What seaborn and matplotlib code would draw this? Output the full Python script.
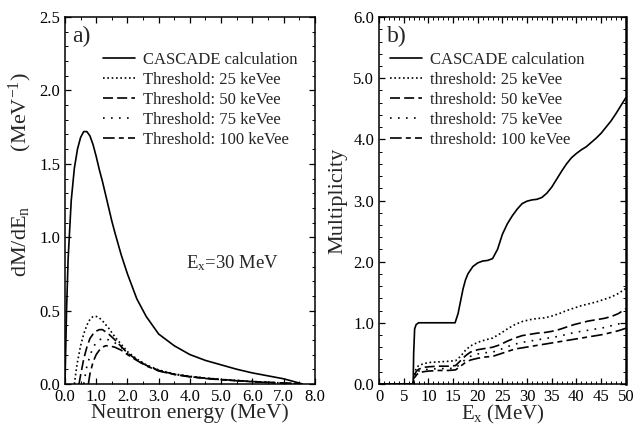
import numpy as np
import pandas as pd
import matplotlib
matplotlib.use("Agg")
import matplotlib.pyplot as plt
from matplotlib.ticker import MultipleLocator
import seaborn as sns

# ---- (a) neutron energy spectra at Ex = 30 MeV ----
e_cascade = [0.0, 0.05, 0.1, 0.2, 0.3, 0.4, 0.5, 0.6, 0.7, 0.8, 0.9, 1.0, 1.1, 1.2, 1.3,
             1.4, 1.5, 1.6, 1.8, 2.0, 2.3, 2.6, 3.0, 3.5, 4.0, 4.5, 5.0, 5.5, 6.0, 6.5,
             7.0, 7.3, 7.6]
m_cascade = [0.0, 0.50, 0.85, 1.25, 1.47, 1.60, 1.68, 1.72, 1.72, 1.69, 1.63, 1.55, 1.46,
             1.38, 1.29, 1.20, 1.11, 1.03, 0.88, 0.75, 0.58, 0.46, 0.34, 0.26, 0.20, 0.16,
             0.13, 0.10, 0.075, 0.055, 0.035, 0.018, 0.0]

e_t25 = [0.30, 0.35, 0.4, 0.5, 0.6, 0.7, 0.8, 0.9, 1.0, 1.1, 1.2, 1.4, 1.6, 1.8, 2.0,
         2.3, 2.6, 3.0, 3.5, 4.0, 4.5, 5.0, 6.0, 7.0, 7.6]
m_t25 = [0.0, 0.08, 0.15, 0.26, 0.34, 0.40, 0.44, 0.46, 0.46, 0.45, 0.43, 0.38, 0.32,
         0.27, 0.22, 0.17, 0.13, 0.095, 0.068, 0.052, 0.040, 0.031, 0.017, 0.006, 0.0]

e_t50 = [0.45, 0.5, 0.6, 0.7, 0.8, 0.9, 1.0, 1.1, 1.2, 1.4, 1.6, 1.8, 2.0,
         2.3, 2.6, 3.0, 3.5, 4.0, 4.5, 5.0, 6.0, 7.0, 7.6]
m_t50 = [0.0, 0.06, 0.17, 0.25, 0.31, 0.34, 0.36, 0.37, 0.37, 0.34, 0.30, 0.255, 0.21,
         0.165, 0.127, 0.092, 0.066, 0.050, 0.039, 0.030, 0.016, 0.006, 0.0]

e_t75 = [0.6, 0.65, 0.7, 0.8, 0.9, 1.0, 1.1, 1.2, 1.4, 1.6, 1.8, 2.0,
         2.3, 2.6, 3.0, 3.5, 4.0, 4.5, 5.0, 6.0, 7.0, 7.6]
m_t75 = [0.0, 0.06, 0.12, 0.19, 0.25, 0.28, 0.30, 0.31, 0.30, 0.28, 0.25, 0.21,
         0.163, 0.125, 0.090, 0.065, 0.049, 0.038, 0.029, 0.015, 0.005, 0.0]

e_t100 = [0.75, 0.8, 0.9, 1.0, 1.1, 1.2, 1.3, 1.4, 1.6, 1.8, 2.0,
          2.3, 2.6, 3.0, 3.5, 4.0, 4.5, 5.0, 6.0, 7.0, 7.6]
m_t100 = [0.0, 0.07, 0.15, 0.20, 0.23, 0.25, 0.26, 0.26, 0.25, 0.23, 0.20,
          0.16, 0.123, 0.088, 0.064, 0.048, 0.037, 0.028, 0.015, 0.005, 0.0]

# ---- (b) multiplicity versus excitation energy ----
ex_cascade = [0, 6.9, 7.0, 7.2, 7.5, 8.0, 10, 12, 14, 15.4, 16.0, 16.5, 17.0, 17.5, 18.0,
              19.0, 20.0, 21.0, 22.0, 23.0, 24.0, 25.0, 26.0, 27.0, 28.0, 29.0, 30.0,
              31.0, 32.0, 33.0, 34.0, 35.0, 36.0, 37.0, 38.0, 39.0, 40.0, 41.0, 42.0,
              43.0, 44.0, 45.0, 46.0, 47.0, 48.0, 49.0, 50.0]
mult_cascade = [0, 0, 0.5, 0.9, 0.97, 1.0, 1.0, 1.0, 1.0, 1.0, 1.15, 1.35, 1.55, 1.7, 1.8,
                1.92, 1.98, 2.01, 2.02, 2.05, 2.2, 2.45, 2.62, 2.75, 2.86, 2.95, 2.99,
                3.01, 3.02, 3.05, 3.12, 3.22, 3.35, 3.48, 3.6, 3.7, 3.77, 3.83, 3.88,
                3.95, 4.02, 4.1, 4.2, 4.3, 4.42, 4.55, 4.68]

ex_thr = [0, 6.9, 7.1, 7.5, 8.0, 9.0, 10, 12, 14, 15.5, 16.5, 17.5, 18.5, 20, 21.5, 23,
          24.5, 26, 27.5, 29, 30.5, 32, 33.5, 35, 36.5, 38, 39.5, 41, 42.5, 44, 45.5,
          47, 48.5, 50]
mult_t25 = [0, 0, 0.15, 0.25, 0.30, 0.33, 0.35, 0.36, 0.37, 0.38, 0.45, 0.55, 0.62, 0.68,
            0.72, 0.75, 0.82, 0.90, 0.97, 1.02, 1.05, 1.07, 1.08, 1.11, 1.15, 1.20, 1.24,
            1.28, 1.31, 1.34, 1.38, 1.42, 1.48, 1.56]
mult_t50 = [0, 0, 0.12, 0.20, 0.24, 0.27, 0.28, 0.29, 0.29, 0.30, 0.38, 0.46, 0.52, 0.56,
            0.58, 0.60, 0.64, 0.70, 0.75, 0.79, 0.81, 0.83, 0.84, 0.86, 0.89, 0.93, 0.97,
            1.00, 1.03, 1.05, 1.07, 1.10, 1.15, 1.23]
mult_t75 = [0, 0, 0.10, 0.17, 0.21, 0.23, 0.24, 0.25, 0.25, 0.26, 0.33, 0.40, 0.45, 0.49,
            0.51, 0.52, 0.56, 0.61, 0.65, 0.68, 0.70, 0.72, 0.74, 0.76, 0.78, 0.81, 0.84,
            0.86, 0.88, 0.90, 0.92, 0.95, 0.98, 1.03]
mult_t100 = [0, 0, 0.08, 0.14, 0.18, 0.20, 0.21, 0.22, 0.22, 0.23, 0.29, 0.35, 0.39, 0.42,
             0.44, 0.45, 0.49, 0.53, 0.57, 0.59, 0.61, 0.63, 0.65, 0.67, 0.69, 0.71, 0.73,
             0.75, 0.77, 0.79, 0.81, 0.84, 0.87, 0.91]

labels_a = ["CASCADE calculation", "Threshold: 25 keVee", "Threshold: 50 keVee",
            "Threshold: 75 keVee", "Threshold: 100 keVee"]
labels_b = ["CASCADE calculation", "threshold: 25 keVee", "threshold: 50 keVee",
            "threshold: 75 keVee", "threshold: 100 keVee"]

styles = ["-", (0, (1.0, 1.6)), (0, (6, 2.5)), (0, (1.0, 3.8)), (0, (7, 2.5, 3, 2.5))]

sns.set_style("ticks")
plt.rcParams["font.family"] = ["Liberation Serif", "DejaVu Serif"]
plt.rcParams["mathtext.fontset"] = "custom"
plt.rcParams["mathtext.rm"] = "Liberation Serif"
plt.rcParams["mathtext.it"] = "Liberation Serif:italic"
plt.rcParams["axes.edgecolor"] = "black"
plt.rcParams["axes.linewidth"] = 1.1

fig = plt.figure(figsize=(6.34, 4.28), dpi=100)
ax_a = fig.add_axes([0.1025, 0.103, 0.394, 0.857])
ax_b = fig.add_axes([0.598, 0.103, 0.389, 0.857])


def draw(ax, xs, ys, labels):
    for x, y, lab, ls in zip(xs, ys, labels, styles):
        df = pd.DataFrame({"x": x, "y": y})
        sns.lineplot(data=df, x="x", y="y", ax=ax, sort=False, estimator=None,
                     color="black", linewidth=1.2, linestyle=ls, label=lab)


draw(ax_a, [e_cascade, e_t25, e_t50, e_t75, e_t100],
     [m_cascade, m_t25, m_t50, m_t75, m_t100], labels_a)
draw(ax_b, [ex_cascade, ex_thr, ex_thr, ex_thr, ex_thr],
     [mult_cascade, mult_t25, mult_t50, mult_t75, mult_t100], labels_b)

# panel (a) axes
ax_a.set_xlim(0, 8)
ax_a.set_ylim(0, 2.5)
ax_a.xaxis.set_major_locator(MultipleLocator(1.0))
ax_a.xaxis.set_minor_locator(MultipleLocator(0.5))
ax_a.yaxis.set_major_locator(MultipleLocator(0.5))
ax_a.yaxis.set_minor_locator(MultipleLocator(0.1))
ax_a.xaxis.set_major_formatter(lambda v, p: f"{v:.1f}")
ax_a.yaxis.set_major_formatter(lambda v, p: f"{v:.1f}")
ax_a.set_xlabel("Neutron energy (MeV)", fontsize=15.5, labelpad=-1)
ax_a.set_ylabel(r"dM/dE$_\mathrm{n}$          (MeV$^{-1}$)", fontsize=16)
ax_a.yaxis.set_label_coords(-0.125, 0.57)
ax_a.text(0.03, 0.975, "a)", transform=ax_a.transAxes, fontsize=17, va="top", ha="left")
ax_a.text(5.35, 0.82, r"E$_\mathrm{x}$=30 MeV", fontsize=13.5, ha="center", va="center")

# panel (b) axes
ax_b.set_xlim(0, 50)
ax_b.set_ylim(0, 6.0)
ax_b.xaxis.set_major_locator(MultipleLocator(5))
ax_b.xaxis.set_minor_locator(MultipleLocator(1))
ax_b.yaxis.set_major_locator(MultipleLocator(1.0))
ax_b.yaxis.set_minor_locator(MultipleLocator(0.2))
ax_b.xaxis.set_major_formatter(lambda v, p: f"{v:.0f}")
ax_b.yaxis.set_major_formatter(lambda v, p: f"{v:.1f}")
ax_b.set_xlabel(r"E$_\mathrm{x}$ (MeV)", fontsize=15, labelpad=-1)
ax_b.set_ylabel("Multiplicity", fontsize=16, labelpad=4)
ax_b.text(0.03, 0.975, "b)", transform=ax_b.transAxes, fontsize=17, va="top", ha="left")

for ax in (ax_a, ax_b):
    ax.tick_params(which="both", direction="in", top=True, right=True, colors="black",
                   labelsize=12)
    ax.tick_params(which="major", length=4, width=0.9, pad=3.5)
    ax.tick_params(which="minor", length=2, width=0.7)
    for s in ax.spines.values():
        s.set_visible(True)
ax_b.spines["right"].set_linewidth(1.8)

ax_a.legend(loc="upper left", bbox_to_anchor=(0.152, 0.906), frameon=False, fontsize=12,
            borderpad=0, borderaxespad=0, handlelength=1.9, handletextpad=0.5,
            labelspacing=0.24)
ax_b.legend(loc="upper left", bbox_to_anchor=(0.045, 0.906), frameon=False, fontsize=12,
            borderpad=0, borderaxespad=0, handlelength=1.9, handletextpad=0.5,
            labelspacing=0.24)

fig.savefig("out.png", dpi=100)
